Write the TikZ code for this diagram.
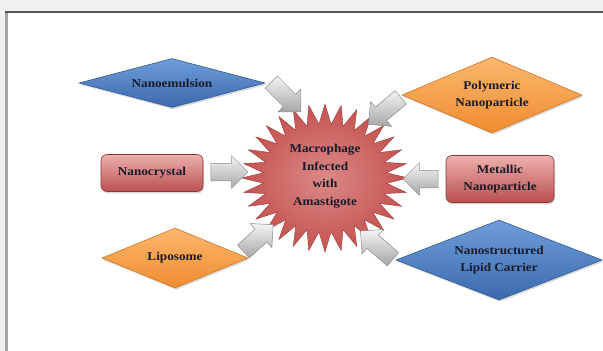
\documentclass[tikz,border=0pt]{standalone}
\usepackage{fontspec}
\setmainfont{Liberation Serif}[FakeStretch=1.1]
\usetikzlibrary{shapes.geometric,shapes.arrows,shadows}
\definecolor{bgc}{HTML}{F0F0F2}
\definecolor{frtop}{HTML}{555555}
\definecolor{frleft}{HTML}{A4A4A4}
\definecolor{txt}{HTML}{1A1A2A}
\definecolor{blueT}{HTML}{6E9DD8}
\definecolor{blueB}{HTML}{3A6AAE}
\definecolor{blueD}{HTML}{2E5A92}
\definecolor{orT}{HTML}{FBB86E}
\definecolor{orB}{HTML}{F08C30}
\definecolor{orD}{HTML}{D07426}
\definecolor{rdT}{HTML}{EDB0AE}
\definecolor{rdM}{HTML}{D06A68}
\definecolor{rdB}{HTML}{B9504E}
\definecolor{rdD}{HTML}{8E3634}
\definecolor{stI}{HTML}{DB8A88}
\definecolor{stO}{HTML}{C4524F}
\definecolor{stD}{HTML}{9A3C3A}
\definecolor{arT}{HTML}{F4F4F4}
\definecolor{arB}{HTML}{A6A6A6}
\definecolor{arD}{HTML}{8C8C8C}
\begin{document}
\begin{tikzpicture}[x=1pt,y=-1pt,
  lbl/.style={font=\bfseries\fontsize{12}{17.5}\selectfont, text=txt, align=center},
  shd/.style={drop shadow={opacity=0.3, shadow xshift=1.2pt, shadow yshift=-1.8pt}},
  bluedia/.style={diamond, lbl, inner sep=0pt, top color=blueT, bottom color=blueB, draw=blueD, line width=0.6pt, shd},
  ordia/.style={diamond, lbl, inner sep=0pt, top color=orT, bottom color=orB, draw=orD, line width=0.6pt, shd},
  redbox/.style={rectangle, rounded corners=6pt, lbl, inner sep=0pt, top color=rdT, middle color=rdM, bottom color=rdB, draw=rdD, line width=0.6pt, shd},
  blk/.style={single arrow, minimum height=#1, minimum width=32pt, single arrow head extend=7.5pt, inner xsep=0pt, inner ysep=8.5pt, top color=arT, bottom color=arB, draw=arD, line width=0.5pt}
]
\useasboundingbox (0,0) rectangle (603,351);
\fill[bgc] (0,0) rectangle (603,351);
\fill[white] (6,12) rectangle (603,351);
\draw[frleft, line width=3pt] (6.5,12) -- (6.5,351);
\draw[frtop, line width=1.5pt] (5,12) -- (603,12);

% star
\shadedraw[inner color=stI, outer color=stO, draw=stD, line width=0.4pt]
  ({325+83*cos(90)},{178-74*sin(90)})
  \foreach \k in {0,...,31}{
    -- ({325+62*cos(95.625+\k*11.25)},{178-54*sin(95.625+\k*11.25)})
    -- ({325+83*cos(101.25+\k*11.25)},{178-74*sin(101.25+\k*11.25)})
  } -- cycle;
\node[lbl] (mac) at (325,176) {Macrophage\\Infected\\with\\Amastigote};

% outer shapes
\node[bluedia, minimum width=186pt, minimum height=49pt, aspect=3.8] (ne) at (172,83) {Nanoemulsion};
\node[ordia, minimum width=180pt, minimum height=76pt, aspect=2.37] (pn) at (492,95) {Polymeric\\Nanoparticle};
\node[redbox, minimum width=102pt, minimum height=37pt] (nc) at (152,173) {Nanocrystal};
\node[redbox, minimum width=108pt, minimum height=47pt] (mn) at (500,179) {Metallic\\Nanoparticle};
\node[ordia, minimum width=146pt, minimum height=60pt, aspect=2.43] (lp) at (175,258) {Liposome};
\node[bluedia, minimum width=206pt, minimum height=80pt, aspect=2.58] (nlc) at (499,260) {Nanostructured\\Lipid Carrier};

% block arrows
\node[blk=42pt, rotate=-45] (a1) at (283,94) {};
\node[blk=42pt, rotate=-140] (a2) at (388,108) {};
\node[blk=37pt, rotate=0] (a3) at (225,172) {};
\node[blk=35pt, rotate=180] (a4) at (425,179) {};
\node[blk=40pt, rotate=42] (a5) at (255,241) {};
\node[blk=43pt, rotate=139] (a6) at (380,248) {};
\end{tikzpicture}
\end{document}
